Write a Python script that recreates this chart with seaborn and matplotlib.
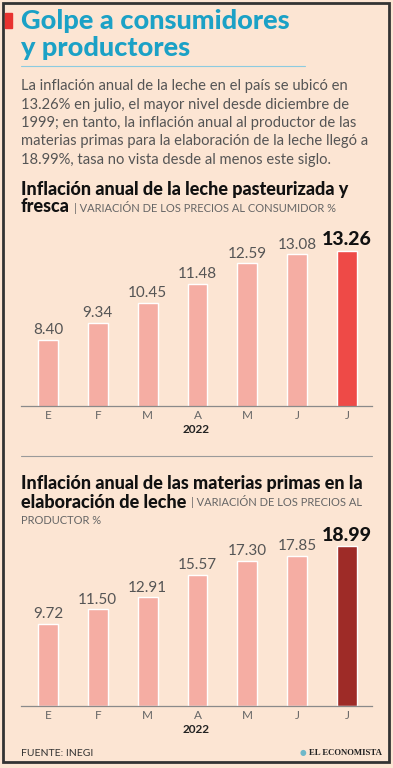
import numpy as np
import pandas as pd
import matplotlib
matplotlib.use("Agg")
import matplotlib.pyplot as plt
import seaborn as sns
from matplotlib.patches import Rectangle
from matplotlib.lines import Line2D

# datos
meses = ["E", "F", "M", "A", "M", "J", "J"]
consumidor = [8.40, 9.34, 10.45, 11.48, 12.59, 13.08, 13.26]
productor = [9.72, 11.50, 12.91, 15.57, 17.30, 17.85, 18.99]
anio = "2022"

titulo = ["Golpe a consumidores", "y productores"]
cuerpo = [
    "La inflación anual de la leche en el país se ubicó en",
    "13.26% en julio, el mayor nivel desde diciembre de",
    "1999; en tanto, la inflación anual al productor de las",
    "materias primas para la elaboración de la leche llegó a",
    "18.99%, tasa no vista desde al menos este siglo.",
]

BG = "#fce5d3"
ROSA = "#f5ada3"
ROJO = "#ee4a47"
VINO = "#9e2b27"
GRIS = "#555555"
AZUL = "#1ba1c6"

sns.set_theme(style="white")
plt.rcParams["font.family"] = ["Lato", "DejaVu Sans"]

W, H = 393, 768
fig = plt.figure(figsize=(W / 100, H / 100), dpi=100, facecolor=BG)


def fx(x):
    return x / W


def fy(y):
    return 1 - y / H


def ejes(top, bottom):
    return fig.add_axes([fx(21), fy(bottom), fx(372) - fx(21), fy(top) - fy(bottom)])


def barras(ax, vals, color_final):
    df = pd.DataFrame({"pos": range(len(vals)), "valor": vals})
    colores = [ROSA] * (len(vals) - 1) + [color_final]
    sns.barplot(data=df, x="pos", y="valor", hue="pos", palette=colores,
                legend=False, width=0.4, ax=ax, saturation=1)
    ax.set_facecolor(BG)
    for s in ["top", "right", "left"]:
        ax.spines[s].set_visible(False)
    ax.spines["bottom"].set_color("#8a8a8a")
    ax.spines["bottom"].set_linewidth(0.9)
    ax.set_xlim(-0.54, 6.5)
    ax.set_yticks([])
    ax.set_xticks(range(len(vals)))
    ax.set_xticklabels(meses, fontsize=8.5, color="#666666")
    ax.tick_params(axis="x", length=0, pad=3)
    ax.set_xlabel(anio, fontsize=8.5, fontweight="bold", color="#222222", labelpad=2)
    ax.set_ylabel("")
    for i, v in enumerate(vals):
        if i == len(vals) - 1:
            ax.annotate(f"{v:.2f}", (i, v), xytext=(0, 2), textcoords="offset points",
                        ha="center", va="bottom", fontsize=14, fontweight="black",
                        color="#111111")
        else:
            ax.annotate(f"{v:.2f}", (i, v), xytext=(0, 2), textcoords="offset points",
                        ha="center", va="bottom", fontsize=11,
                        color="#555555")


# grafica 1
ax1 = ejes(226, 406)
barras(ax1, consumidor, ROJO)
ax1.set_ylim(4.8, 4.8 + 180 / 18.3)

# grafica 2
ax2 = ejes(530, 706)
barras(ax2, productor, VINO)
ax2.set_ylim(0, 176 / 8.41)

# marco y adornos
fig.patches.append(Rectangle((fx(3), fy(762)), fx(386), fy(3) - fy(762),
                             transform=fig.transFigure, fill=False,
                             edgecolor="#333333", linewidth=2))
fig.patches.append(Rectangle((fx(5), fy(28)), fx(7), fy(13) - fy(28),
                             transform=fig.transFigure, color="#e8322f"))
fig.lines.append(Line2D([fx(21), fx(305)], [fy(66), fy(66)], transform=fig.transFigure,
                        color="#8ccbe0", linewidth=0.8))
fig.lines.append(Line2D([fx(21), fx(372)], [fy(456), fy(456)], transform=fig.transFigure,
                        color="#9a9a9a", linewidth=0.8))

# titulo
fig.text(fx(21), fy(21), titulo[0], fontsize=19.5, fontweight="black", color=AZUL, va="center")
fig.text(fx(21), fy(48), titulo[1], fontsize=19.5, fontweight="black", color=AZUL, va="center")

for i, linea in enumerate(cuerpo):
    fig.text(fx(21), fy(86 + i * 18.5), linea, fontsize=10.6,
             color=GRIS, va="center")

# subtitulos
fig.text(fx(21), fy(189), "Inflación anual de la leche pasteurizada y",
         fontsize=13, fontweight="black", color="#111111", va="center")
t1 = fig.text(fx(21), fy(207), "fresca", fontsize=13, fontweight="black",
              color="#111111", va="center")
ax1.annotate("| VARIACIÓN DE LOS PRECIOS AL CONSUMIDOR %", xy=(1, 0.5), xycoords=t1,
             xytext=(3, 0), textcoords="offset points", va="center", ha="left",
             fontsize=8, color="#666666", annotation_clip=False)

fig.text(fx(21), fy(483), "Inflación anual de las materias primas en la",
         fontsize=13, fontweight="black", color="#111111", va="center")
t2 = fig.text(fx(21), fy(502), "elaboración de leche", fontsize=13, fontweight="black",
              color="#111111", va="center")
ax2.annotate("| VARIACIÓN DE LOS PRECIOS AL", xy=(1, 0.5), xycoords=t2,
             xytext=(3, 0), textcoords="offset points", va="center", ha="left",
             fontsize=8, color="#666666", annotation_clip=False)
fig.text(fx(21), fy(521), "PRODUCTOR %", fontsize=8,
         color="#666666", va="center")

# pie
fig.text(fx(21), fy(753), "FUENTE: INEGI", fontsize=7.5,
         color="#333333", va="center")
fig.text(fx(382), fy(753), "EL ECONOMISTA", fontsize=6.3, fontweight="bold",
         family="Liberation Serif", color="#222222", va="center", ha="right")
fig.text(fx(306), fy(753), "●", fontsize=5.5, color="#6fb8c9", va="center", ha="right",
         family="DejaVu Sans")

fig.savefig("out.png", dpi=100, facecolor=BG)
